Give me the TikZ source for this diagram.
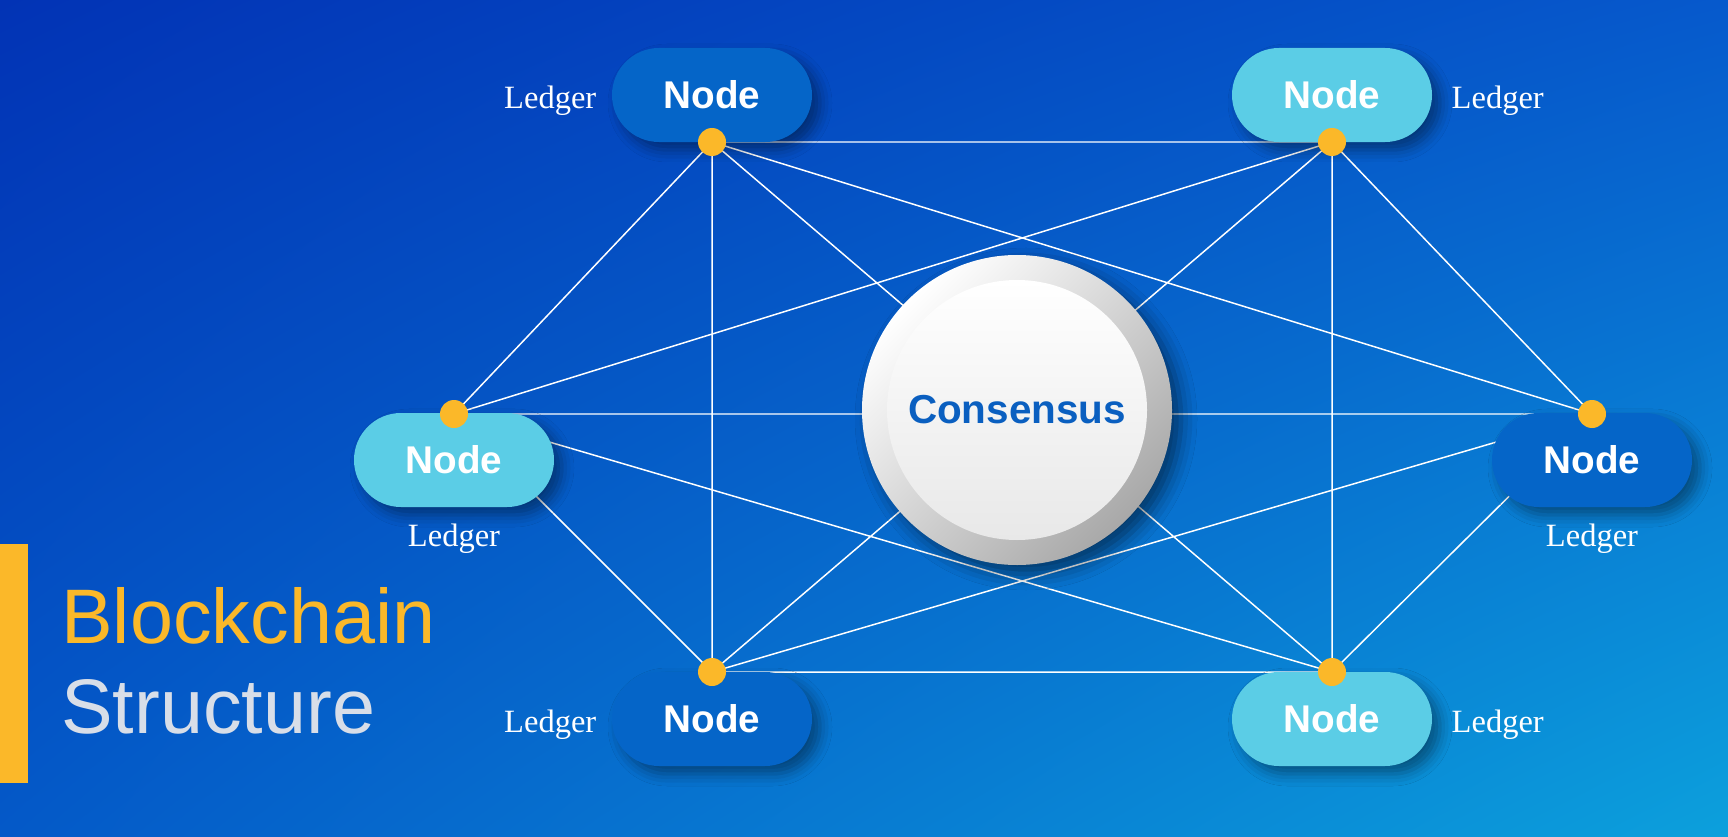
\documentclass[tikz,border=0pt]{standalone}
\usepackage{fontspec}
\setmainfont{Liberation Serif}
\setsansfont{Liberation Sans}
\usetikzlibrary{positioning,shadings,shadows.blur}
\definecolor{bgUL}{HTML}{0233B5}
\definecolor{bgUR}{HTML}{0659CC}
\definecolor{bgLL}{HTML}{0459C8}
\definecolor{bgLR}{HTML}{0CA0DC}
\definecolor{pilldark}{HTML}{0565C8}
\definecolor{pilllight}{HTML}{5BCDE6}
\definecolor{dotorange}{HTML}{FBB829}
\definecolor{consblue}{HTML}{0A5FC0}
\definecolor{titlegray}{HTML}{D8DEE8}

\begin{document}
\begin{tikzpicture}[x=0.2mm,y=0.2mm]
\tikzstyle{pill}=[rectangle,rounded corners=9.4mm,minimum width=40mm,minimum height=18.8mm,inner sep=0,
  text=white,font=\sffamily\bfseries\fontsize{22}{26}\selectfont,
  blur shadow={shadow xshift=1.6mm,shadow yshift=-1.6mm,shadow blur radius=2.4mm,shadow opacity=40}]
\tikzstyle{darkpill}=[pill,fill=pilldark]
\tikzstyle{lightpill}=[pill,fill=pilllight]
\tikzstyle{dot}=[circle,fill=dotorange,minimum size=5.6mm,inner sep=0]
\tikzstyle{ledger}=[text=white,inner sep=0,font=\fontsize{18.5}{22}\selectfont]
\tikzstyle{sideledger}=[ledger,yshift=-1.1mm]
\tikzstyle{link}=[draw=white,line width=0.85pt]
\tikzstyle{title}=[anchor=base west,inner sep=0,font=\sffamily\fontsize{44}{50}\selectfont]
\useasboundingbox (0,0) rectangle (1728,836);
\shade[upper left=bgUL,upper right=bgUR,lower left=bgLL,lower right=bgLR] (0,0) rectangle (1728,836);
\coordinate (pA) at (712,694);
\coordinate (pB) at (1332,694);
\coordinate (pC) at (454,422);
\coordinate (pD) at (1592,422);
\coordinate (pE) at (712,164);
\coordinate (pF) at (1332,164);
\draw[link] (pA) -- (pB) (pA) -- (pC) (pA) -- (pD) (pA) -- (pE) (pA) -- (pF)
  (pB) -- (pC) (pB) -- (pD) (pB) -- (pE) (pB) -- (pF)
  (pC) -- (pD) (pC) -- (pE) (pC) -- (pF)
  (pD) -- (pE) (pD) -- (pF) (pE) -- (pF);
\node[darkpill] (nA) at (712,741) {Node};
\node[lightpill] (nB) at (1332,741) {Node};
\node[lightpill] (nC) at (454,376) {Node};
\node[darkpill] (nD) at (1592,376) {Node};
\node[darkpill] (nE) at (712,117) {Node};
\node[lightpill] (nF) at (1332,117) {Node};
\node[sideledger,left=3mm of nA] (lA) {Ledger};
\node[sideledger,right=3.8mm of nB] (lB) {Ledger};
\node[ledger,below=3.2mm of nC] (lC) {Ledger};
\node[ledger,below=3.2mm of nD] (lD) {Ledger};
\node[sideledger,left=3mm of nE] (lE) {Ledger};
\node[sideledger,right=3.8mm of nF] (lF) {Ledger};
\foreach \p in {A,B,C,D,E,F}
  \node[dot] (k\p) at (p\p) {};
\node[circle,minimum size=62mm,inner sep=0,top color=white,bottom color=black!34,shading angle=45,
  blur shadow={shadow xshift=1.8mm,shadow yshift=-1.8mm,shadow blur radius=3.2mm,shadow opacity=50}] (ring) at (1017,426) {};
\node[circle,minimum size=52mm,inner sep=0,top color=white,bottom color=black!9,
  text=consblue,font=\sffamily\bfseries\fontsize{23}{28}\selectfont] (cons) at (ring.center) {Consensus};
\fill[dotorange] (0,53) rectangle (28,292);
\node[title,text=dotorange] (t1) at (61,193) {Blockchain};
\node[title,text=titlegray] (t2) at (61,103) {Structure};
\end{tikzpicture}
\end{document}
